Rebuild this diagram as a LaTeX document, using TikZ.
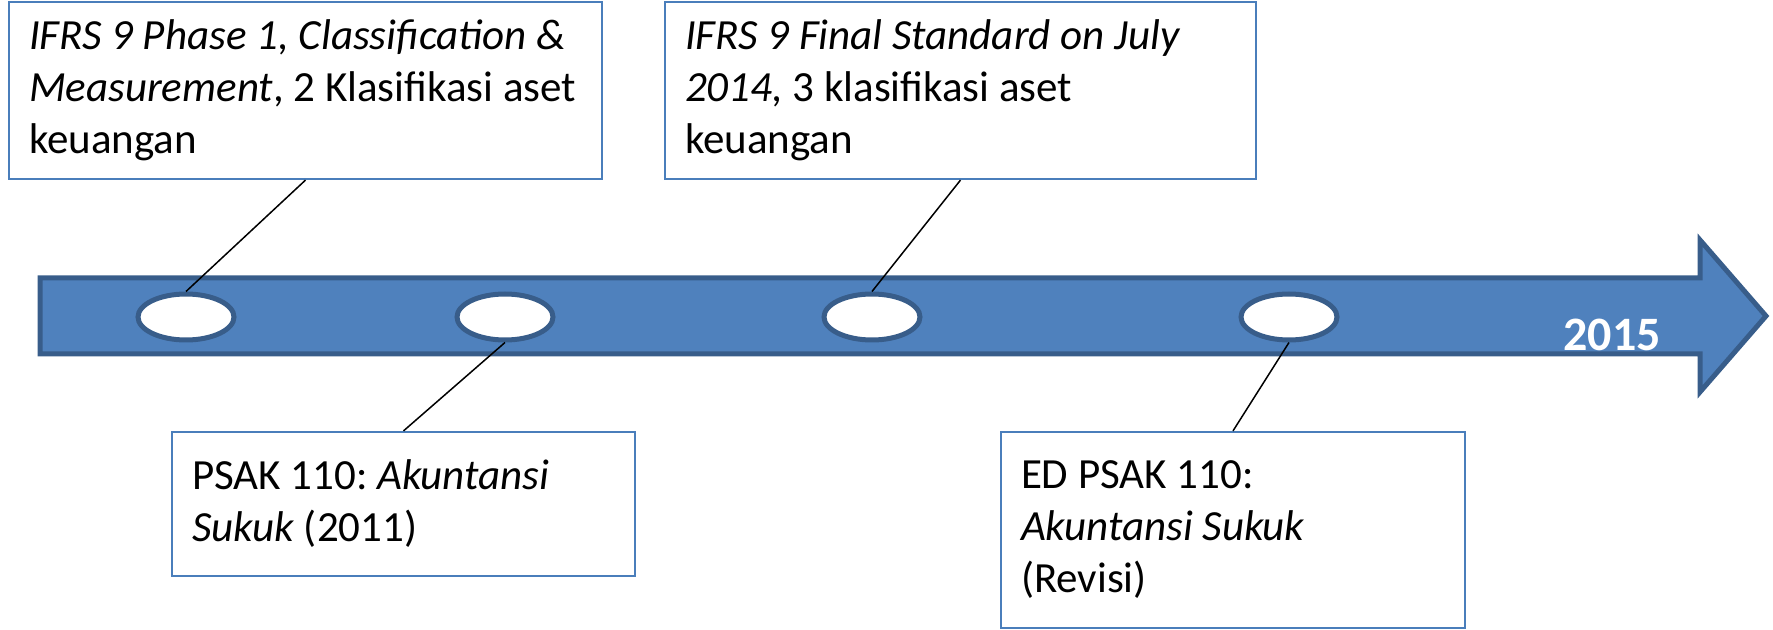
\documentclass[tikz,border=0pt]{standalone}
\usepackage{fontspec}
\setmainfont{Carlito}
\usetikzlibrary{shapes.geometric}
\definecolor{tlblue}{RGB}{79,129,189}
\definecolor{tldark}{RGB}{56,93,138}
\definecolor{tlbox}{RGB}{74,126,187}
\frenchspacing

\begin{document}
\begin{tikzpicture}[x=0.5pt,y=-0.5pt,line join=miter,
    every node/.style={font=\fontsize{21.5}{26}\selectfont},
    note/.style={draw=tlbox,line width=1.1pt,fill=white,align=flush left,inner xsep=10pt,inner ysep=0pt},
    dot/.style={ellipse,draw=tldark,line width=2.5pt,fill=white,minimum width=48pt,minimum height=23pt,inner sep=0pt},
    link/.style={line width=0.75pt}]
    \useasboundingbox (0,0) rectangle (1773,630);
    % timeline arrow
    \draw[fill=tlblue,draw=tldark,line width=2.5pt]
      (40,278) -- (1700,278) -- (1700,240) -- (1766,316) -- (1700,392) -- (1700,354) -- (40,354) -- cycle;
    \node[dot] (e1) at (186,317) {};
    \node[dot] (e2) at (505,317) {};
    \node[dot] (e3) at (872,317) {};
    \node[dot] (e4) at (1289,317) {};
    \node[font=\bfseries\fontsize{24}{28}\selectfont,text=white] (yr) at (1612,335) {2015};
    % notes
    \node[note,text width=276.5pt,minimum height=88.5pt] (phase1) at (305.5,90.5)
      {\textit{IFRS 9 Phase 1, Classification \&}\\\textit{Measurement}, 2 Klasifikasi aset\\keuangan};
    \node[note,text width=275.5pt,minimum height=88.5pt] (final) at (960.5,90.5)
      {\textit{IFRS 9 Final Standard on July}\\\textit{2014,} 3 klasifikasi aset\\keuangan};
    \node[note,text width=211.5pt,minimum height=72pt] (psak) at (403.5,504)
      {PSAK 110: \textit{Akuntansi}\\\textit{Sukuk} (2011)};
    \node[note,text width=212pt,minimum height=98pt] (edpsak) at (1233,530)
      {ED PSAK 110:\\\textit{Akuntansi Sukuk}\\(Revisi)};
    \draw[link] (phase1.south) -- (e1.north);
    \draw[link] (final.south) -- (e3.north);
    \draw[link] (e2.south) -- (psak.north);
    \draw[link] (e4.south) -- (edpsak.north);
  \end{tikzpicture}
\end{document}
